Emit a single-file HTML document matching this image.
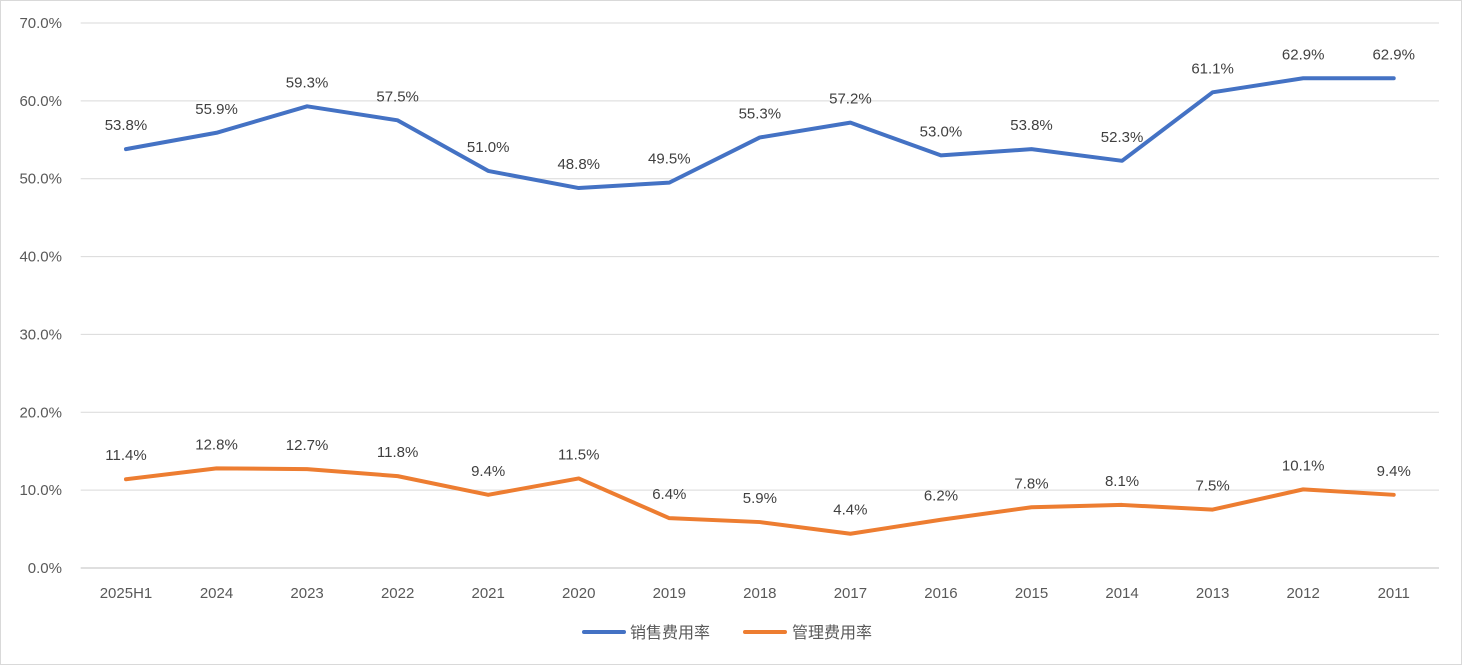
<!DOCTYPE html>
<html><head><meta charset="utf-8"><style>
body{margin:0;background:#fff;}
svg{display:block;font-family:"Liberation Sans","Noto Sans CJK SC",sans-serif;}
</style></head><body>
<svg id="chart" width="1462" height="665">
<rect x="0.5" y="0.5" width="1461" height="664" fill="#fff" stroke="#d9d9d9"/>
<g id="grid"></g><g id="xlabels"></g><g id="series"></g>
<g>
<line x1="584" y1="632" x2="624" y2="632" stroke="#4472C4" stroke-width="4" stroke-linecap="round"/>
<text x="630" y="638" font-size="16" fill="#595959">销售费用率</text>
<line x1="745" y1="632" x2="785" y2="632" stroke="#ED7D31" stroke-width="4" stroke-linecap="round"/>
<text x="792" y="638" font-size="16" fill="#595959">管理费用率</text>
</g>
</svg>
<script>
const categories=["2025H1","2024","2023","2022","2021","2020","2019","2018","2017","2016","2015","2014","2013","2012","2011"];
const salesRate=[53.8,55.9,59.3,57.5,51.0,48.8,49.5,55.3,57.2,53.0,53.8,52.3,61.1,62.9,62.9];
const adminRate=[11.4,12.8,12.7,11.8,9.4,11.5,6.4,5.9,4.4,6.2,7.8,8.1,7.5,10.1,9.4];
const yTicks=[0,10,20,30,40,50,60,70];
const NS="http://www.w3.org/2000/svg";
const L=80.7,R=1439,T=23,B=568,YMAX=70;
const step=(R-L)/categories.length;
const x=i=>L+step*(i+0.5);
const y=v=>B-(v/YMAX)*(B-T);
function mk(tag,attrs,parent,text){const e=document.createElementNS(NS,tag);for(const k in attrs)e.setAttribute(k,attrs[k]);if(text!==undefined)e.textContent=text;parent.appendChild(e);return e;}
const grid=document.getElementById('grid');
yTicks.forEach(t=>{
 const l=mk('line',{x1:L,x2:R,y1:y(t),y2:y(t),stroke:t===0?'#bfbfbf':'#d9d9d9','stroke-width':1},grid);
 
 
 const tx=mk('text',{x:62,y:y(t)+5,'font-size':15,fill:'#595959','text-anchor':'end'},grid,t.toFixed(1)+'%');
 
 
});
const xl=document.getElementById('xlabels');
categories.forEach((c,i)=>{
 const tx=mk('text',{x:x(i),y:598,'font-size':15,fill:'#595959','text-anchor':'middle'},xl,c);
 
 
});
const sg=document.getElementById('series');
function draw(vals,color,name){
 const p=mk('polyline',{points:vals.map((v,i)=>x(i)+','+y(v)).join(' '),fill:'none',stroke:color,'stroke-width':4,'stroke-linejoin':'round','stroke-linecap':'round'},sg);
 
 
 vals.forEach((v,i)=>{
  const t=mk('text',{x:x(i),y:y(v)-19,'font-size':15,fill:'#404040','text-anchor':'middle'},sg,v.toFixed(1)+'%');
  
  
 });
}
draw(salesRate,'#4472C4','sales-rate');
draw(adminRate,'#ED7D31','admin-rate');
</script>
</body></html>
